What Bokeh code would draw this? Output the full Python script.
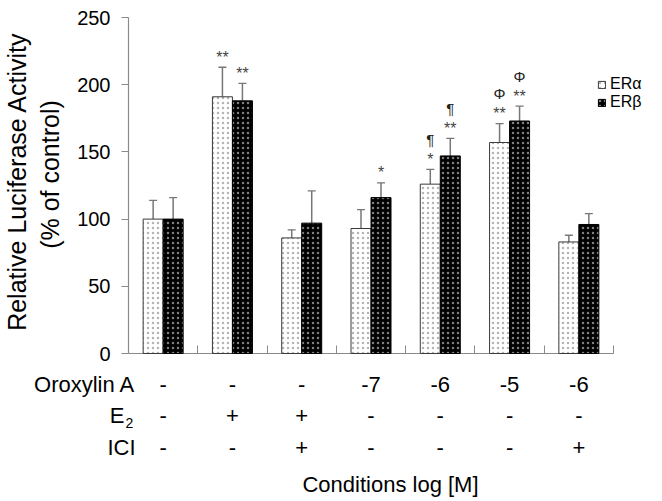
import numpy as np
from bokeh.plotting import figure
from bokeh.models import ColumnDataSource, Whisker, TeeHead, Range1d, FixedTicker, LinearAxis
from bokeh.core.properties import value
from bokeh.embed import file_html
from bokeh.resources import INLINE

# ---------------- data ----------------
series_names = ["ERα", "ERβ"]
er_alpha = [100, 191, 86, 93, 126, 157, 83]
er_alpha_err = [14, 22, 6, 14, 11, 14, 5]
er_beta = [100, 188, 97, 116, 147, 173, 96]
er_beta_err = [16, 13, 24, 11, 13, 11, 8]
alpha_sig = ["", "**", "", "", "*", "**", ""]
alpha_sym = ["", "", "", "", "¶", "Φ", ""]
beta_sig = ["", "**", "", "*", "**", "**", ""]
beta_sym = ["", "", "", "", "¶", "Φ", ""]
row_names = ["Oroxylin A", "E", "ICI"]
oroxylin_a = ["-", "-", "-", "-7", "-6", "-5", "-6"]
e2 = ["-", "+", "+", "-", "-", "-", "-"]
ici = ["-", "-", "+", "-", "-", "-", "+"]
y_ticks = [0, 50, 100, 150, 200, 250]
y_label_lines = ["Relative Luciferase Activity", "(% of control)"]
x_title = "Conditions log [M]"

# ---------------- layout (pixels on the page) ----------------
FONT = "Liberation Sans"
W, H = 662, 501
AX_X0, AX_X1 = 128, 613     # x axis extent
AX_Y0, AX_Y1 = 353, 17      # y of value 0 and of value 250
n = len(er_alpha)
YMAX = y_ticks[-1]
ppx = (AX_X1 - AX_X0) / n
ppy = (AX_Y0 - AX_Y1) / YMAX


def X(px):   # page x -> data x
    return (px - AX_X0) / ppx


def Y(py):   # page y -> data y
    return (AX_Y0 - py) / ppy


p = figure(width=W, height=H, x_range=Range1d(X(0), X(W)), y_range=Range1d(Y(H), Y(0)),
           output_backend="svg", toolbar_location=None, min_border=0,
           x_axis_type=None, y_axis_type=None)
p.outline_line_color = None
p.background_fill_color = "white"
p.border_fill_color = "white"

AX = "#8a8a8a"
yax = LinearAxis(fixed_location=0, ticker=FixedTicker(ticks=y_ticks))
yax.axis_line_color = None
yax.major_tick_line_color = AX
yax.major_tick_out = 7
yax.major_tick_in = 0
yax.minor_tick_line_color = None
yax.major_label_text_font = FONT
yax.major_label_text_font_size = "20px"
yax.major_label_text_color = "black"
yax.major_label_standoff = 11
p.add_layout(yax, "left")

xax = LinearAxis(fixed_location=0, ticker=FixedTicker(ticks=list(range(1, n + 1))))
xax.axis_line_color = None
xax.major_tick_line_color = AX
xax.major_tick_in = 8
xax.major_tick_out = 0
xax.minor_tick_line_color = None
xax.major_label_text_alpha = 0
xax.major_label_text_font_size = "1px"
xax.major_label_standoff = 0
p.add_layout(xax, "below")

# axis lines over the data extent
p.segment(x0=[0, 0], y0=[0, 0], x1=[n, 0], y1=[0, YMAX], line_color=AX, line_width=1.2)

centers = np.arange(n) + 0.5
bw = 20 / ppx
xa = centers - bw / 2
xb = centers + bw / 2

src_a = ColumnDataSource(dict(x=xa, top=er_alpha, upper=np.array(er_alpha) + np.array(er_alpha_err)))
src_b = ColumnDataSource(dict(x=xb, top=er_beta, upper=np.array(er_beta) + np.array(er_beta_err)))

p.vbar(x="x", top="top", width=bw, source=src_a, fill_color="white", line_color="#3a3a3a",
       line_width=1, hatch_pattern="dot", hatch_color="#b4b4b4", hatch_scale=5, hatch_weight=1.0,
       legend_label=series_names[0])
p.vbar(x="x", top="top", width=bw, source=src_b, fill_color="black", line_color="black",
       line_width=1, hatch_pattern="dot", hatch_color="#808080", hatch_scale=5, hatch_weight=1.1,
       legend_label=series_names[1])

for s in (src_a, src_b):
    w = Whisker(base="x", lower="top", upper="upper", source=s, lower_head=None,
                upper_head=TeeHead(size=8, line_color="#777777", line_width=1.3),
                line_color="#777777", line_width=1.5)
    p.add_layout(w)


def text(xs, ys, texts, size, align="center", color="black", angle=0.0, font=FONT):
    p.text(x=list(xs), y=list(ys), text=list(texts), text_font=value(font),
           text_font_size=value(size), text_color=color, text_align=align,
           text_baseline="middle", angle=angle)


# significance annotations (offsets in px above the error bar top)
STAR_OFF, SYM_OFF = 10, 30
for xs, ups, sig, sym in ((xa, src_a.data["upper"], alpha_sig, alpha_sym),
                          (xb, src_b.data["upper"], beta_sig, beta_sym)):
    idx = [i for i in range(n) if sig[i]]
    text([xs[i] for i in idx], [ups[i] + STAR_OFF / ppy for i in idx], [sig[i] for i in idx],
         "16px", color="#444444")
    idx = [i for i in range(n) if sym[i]]
    text([xs[i] for i in idx], [ups[i] + SYM_OFF / ppy for i in idx], [sym[i] for i in idx],
         "15px", color="#222222")

# legend
lg = p.legend[0]
lg.location = (597, 390)
lg.background_fill_alpha = 0
lg.border_line_alpha = 0
lg.padding = 0
lg.margin = 0
lg.spacing = 0
lg.label_height = 17
lg.glyph_width = 9
lg.glyph_height = 9
lg.label_standoff = 4
lg.label_text_font = FONT
lg.label_text_font_size = "16px"
lg.label_text_color = "black"

# y axis title
text([X(16)], [Y(181)], [y_label_lines[0]], "25px", angle=np.pi / 2)
text([X(49)], [Y(174)], [y_label_lines[1]], "25px", angle=np.pi / 2)

# condition table
TF = "22px"
row_py = [384, 415, 447]
for py, vals in zip(row_py, [oroxylin_a, e2, ici]):
    text(centers, [Y(py)] * n, vals, TF)
text([X(135), X(135)], [Y(row_py[0]), Y(row_py[2])], [row_names[0], row_names[2]], TF, align="right")
text([X(124)], [Y(row_py[1])], [row_names[1]], TF, align="right")
text([X(125)], [Y(row_py[1] + 7)], ["2"], "14px", align="left")
text([X(390)], [Y(484)], [x_title], TF)

open("out.html", "w").write(file_html(p, INLINE))
